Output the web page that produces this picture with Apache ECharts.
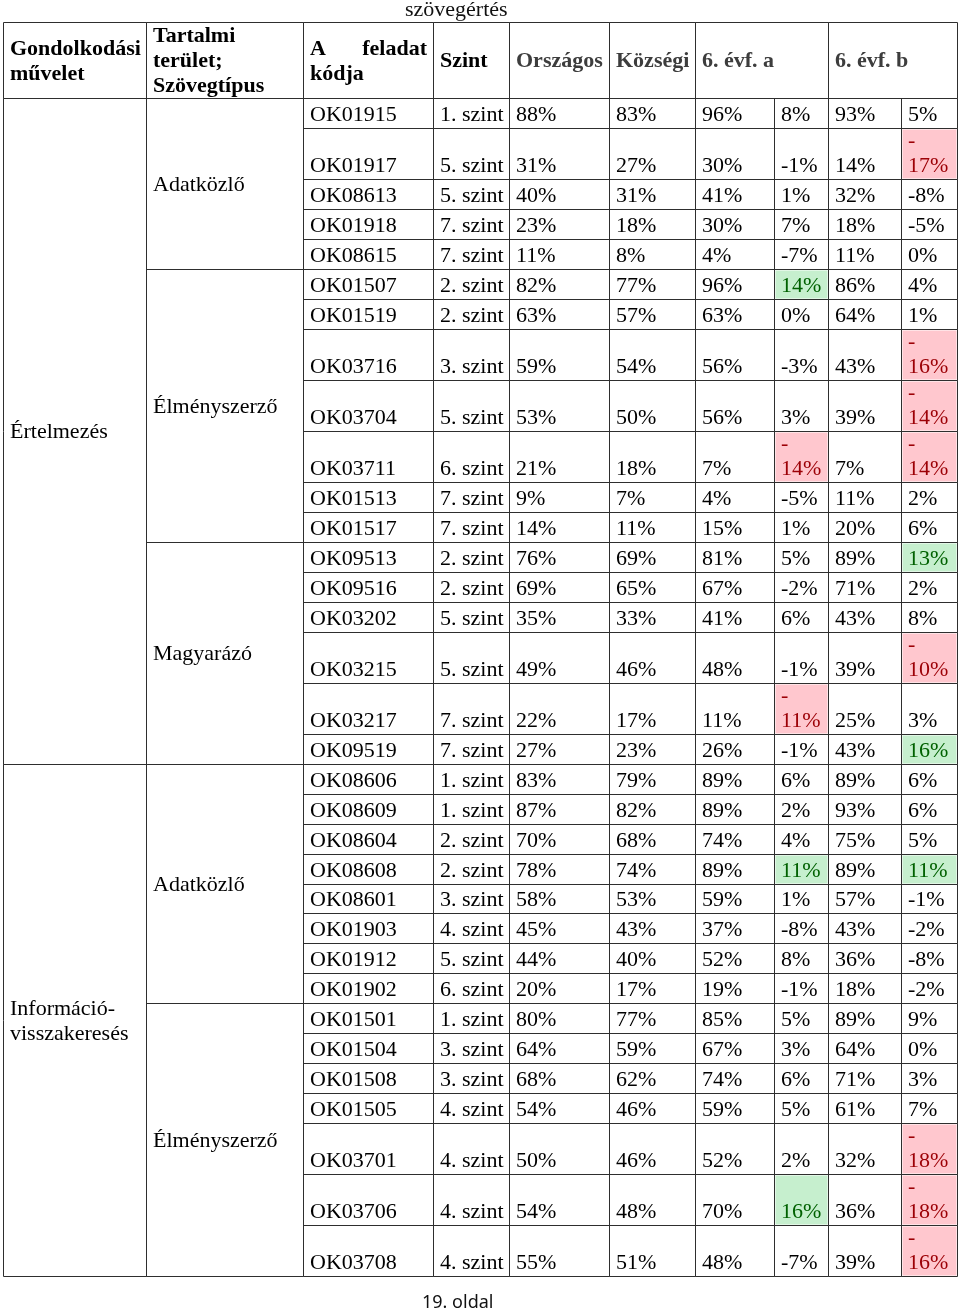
<!DOCTYPE html>
<html>
<head>
<meta charset="utf-8">
<title>szövegértés</title>
<script src="https://cdn.jsdelivr.net/npm/echarts@6/dist/echarts.min.js"></script>
<style>
  html, body { margin: 0; padding: 0; background: #fff; }
  #chart { width: 960px; height: 1315px; }
</style>
</head>
<body>
<div id="chart"></div>
<script>
// table contents
const operations = ['Értelmezés', 'Információ-\nvisszakeresés'];
const operationRows = [18, 15];
const textTypes = ['Adatközlő', 'Élményszerző', 'Magyarázó', 'Adatközlő', 'Élményszerző'];
const textTypeRows = [5, 7, 6, 8, 7];

const codes = ['OK01915', 'OK01917', 'OK08613', 'OK01918', 'OK08615', 'OK01507', 'OK01519', 'OK03716',
  'OK03704', 'OK03711', 'OK01513', 'OK01517', 'OK09513', 'OK09516', 'OK03202', 'OK03215', 'OK03217',
  'OK09519', 'OK08606', 'OK08609', 'OK08604', 'OK08608', 'OK08601', 'OK01903', 'OK01912', 'OK01902',
  'OK01501', 'OK01504', 'OK01508', 'OK01505', 'OK03701', 'OK03706', 'OK03708'];
const levels = [1, 5, 5, 7, 7, 2, 2, 3, 5, 6, 7, 7, 2, 2, 5, 5, 7, 7, 1, 1, 2, 2, 3, 4, 5, 6, 1, 3, 3, 4, 4, 4, 4];
const orszagos = [88, 31, 40, 23, 11, 82, 63, 59, 53, 21, 9, 14, 76, 69, 35, 49, 22, 27, 83, 87, 70, 78, 58, 45, 44, 20, 80, 64, 68, 54, 50, 54, 55];
const kozsegi = [83, 27, 31, 18, 8, 77, 57, 54, 50, 18, 7, 11, 69, 65, 33, 46, 17, 23, 79, 82, 68, 74, 53, 43, 40, 17, 77, 59, 62, 46, 46, 48, 51];
const evfA = [96, 30, 41, 30, 4, 96, 63, 56, 56, 7, 4, 15, 81, 67, 41, 48, 11, 26, 89, 89, 74, 89, 59, 37, 52, 19, 85, 67, 74, 59, 52, 70, 48];
const evfADiff = [8, -1, 1, 7, -7, 14, 0, -3, 3, -14, -5, 1, 5, -2, 6, -1, -11, -1, 6, 2, 4, 11, 1, -8, 8, -1, 5, 3, 6, 5, 2, 16, -7];
const evfB = [93, 14, 32, 18, 11, 86, 64, 43, 39, 7, 11, 20, 89, 71, 43, 39, 25, 43, 89, 93, 75, 89, 57, 43, 36, 18, 89, 64, 71, 61, 32, 36, 39];
const evfBDiff = [5, -17, -8, -5, 0, 4, 1, -16, -14, -14, 2, 6, 13, 2, 8, -10, 3, 16, 6, 6, 5, 11, -1, -2, -8, -2, 9, 0, 3, 7, -18, -18, -16];

const headers = ['Gondolkodási\nművelet', 'Tartalmi\nterület;\nSzövegtípus', 'A feladat\nkódja', 'Szint',
  'Országos', 'Községi', '6. évf. a', '6. évf. b'];

// layout
const SERIF = '"Liberation Serif", "Times New Roman", serif';
const COL_W = [142.5, 157, 130.5, 76, 100, 86, 79, 54, 73, 56];
const HEADER_H = 76, ROW_H = 29.9, TALL_H = 51.2, LINE_H = 25, PAD = 6.5;
const BORDER = '#2e2e2e';

const colX = [0];
COL_W.forEach(w => colX.push(colX[colX.length - 1] + w));

const isWrapped = v => v <= -10;
const rowH = codes.map((c, i) => (isWrapped(evfADiff[i]) || isWrapped(evfBDiff[i])) ? TALL_H : ROW_H);
const rowY = [HEADER_H];
rowH.forEach(h => rowY.push(rowY[rowY.length - 1] + h));
const totalH = rowY[rowY.length - 1];

const pct = v => v + '%';
const diffText = v => isWrapped(v) ? '-\n' + Math.abs(v) + '%' : v + '%';
const diffTone = v => v >= 10 ? { fill: '#C6EFCE', color: '#006100' } : v <= -10 ? { fill: '#FFC7CE', color: '#9C0006' } : null;

const cells = [];
// header
const headSpan = [[0, 1], [1, 2], [2, 3], [3, 4], [4, 5], [5, 6], [6, 8], [8, 10]];
headers.forEach((h, i) => {
  cells.push({
    x0: colX[headSpan[i][0]], x1: colX[headSpan[i][1]], y0: 0, y1: HEADER_H,
    text: h, bold: true, color: i < 4 ? '#000' : '#3d3d3d', valign: 'middle', justify: i === 2
  });
});
// merged group columns
let r = 0;
operations.forEach((op, i) => {
  cells.push({ x0: colX[0], x1: colX[1], y0: rowY[r], y1: rowY[r + operationRows[i]], text: op, color: '#000', valign: 'middle' });
  r += operationRows[i];
});
r = 0;
textTypes.forEach((t, i) => {
  cells.push({ x0: colX[1], x1: colX[2], y0: rowY[r], y1: rowY[r + textTypeRows[i]], text: t, color: '#000', valign: 'middle' });
  r += textTypeRows[i];
});
// body
codes.forEach((code, i) => {
  const vals = [code, levels[i] + '. szint', pct(orszagos[i]), pct(kozsegi[i]), pct(evfA[i]),
    diffText(evfADiff[i]), pct(evfB[i]), diffText(evfBDiff[i])];
  vals.forEach((v, j) => {
    const tone = j === 5 ? diffTone(evfADiff[i]) : j === 7 ? diffTone(evfBDiff[i]) : null;
    cells.push({
      x0: colX[j + 2], x1: colX[j + 3], y0: rowY[i], y1: rowY[i + 1], text: v,
      color: tone ? tone.color : '#000', fill: tone ? tone.fill : null, valign: 'bottom'
    });
  });
});

function renderCell(params, api) {
  const c = cells[params.dataIndex];
  const a = api.coord([c.x0, c.y0]);
  const b = api.coord([c.x1, c.y1]);
  const L = Math.round(a[0]) + 0.5, T = Math.round(a[1]) + 0.5;
  const R = Math.round(b[0]) + 0.5, B = Math.round(b[1]) + 0.5;
  const kids = [];
  if (c.fill) {
    kids.push({ type: 'rect', shape: { x: L + 1, y: T + 1, width: R - L - 2, height: B - T - 2 }, style: { fill: c.fill } });
  }
  kids.push({ type: 'rect', shape: { x: L, y: T, width: R - L, height: B - T }, style: { fill: null, stroke: BORDER, lineWidth: 1 } });
  const lines = c.text.split('\n');
  const n = lines.length;
  const font = (c.bold ? 'bold ' : '') + '22px ' + SERIF;
  let firstY;
  if (c.valign === 'middle') firstY = (T + B) / 2 - (n - 1) * LINE_H / 2 + 1;
  else firstY = B - 13 - (n - 1) * LINE_H;
  lines.forEach((ln, k) => {
    const y = firstY + k * LINE_H;
    if (c.justify && k === 0) {
      const words = ln.split(' ');
      kids.push({ type: 'text', x: L + PAD, y: y, style: { text: words[0], font: font, fill: c.color, align: 'left', verticalAlign: 'middle' } });
      kids.push({ type: 'text', x: R - PAD, y: y, style: { text: words[words.length - 1], font: font, fill: c.color, align: 'right', verticalAlign: 'middle' } });
    } else {
      kids.push({ type: 'text', x: L + PAD, y: y, style: { text: ln, font: font, fill: c.color, align: 'left', verticalAlign: 'middle' } });
    }
  });
  return { type: 'group', children: kids };
}

const chart = echarts.init(document.getElementById('chart'), null, { renderer: 'canvas' });
chart.setOption({
  backgroundColor: '#fff',
  animation: false,
  title: [
    { text: 'szövegértés', left: 405, top: -1, padding: 0,
      textStyle: { fontFamily: SERIF, fontSize: 22, fontWeight: 'normal', color: '#111' } },
    { text: '19. oldal', left: 422, top: 1294, padding: 0,
      textStyle: { fontFamily: '"Noto Sans", sans-serif', fontSize: 18, fontWeight: 'normal', color: '#111' } }
  ],
  grid: { left: 3, top: 22, width: colX[colX.length - 1], height: totalH, containLabel: false },
  xAxis: { type: 'value', min: 0, max: colX[colX.length - 1], show: false },
  yAxis: { type: 'value', min: 0, max: totalH, inverse: true, show: false },
  series: [{
    type: 'custom',
    coordinateSystem: 'cartesian2d',
    silent: true,
    clip: false,
    renderItem: renderCell,
    data: cells.map(c => [c.x0, c.y0])
  }]
});
</script>
</body>
</html>
